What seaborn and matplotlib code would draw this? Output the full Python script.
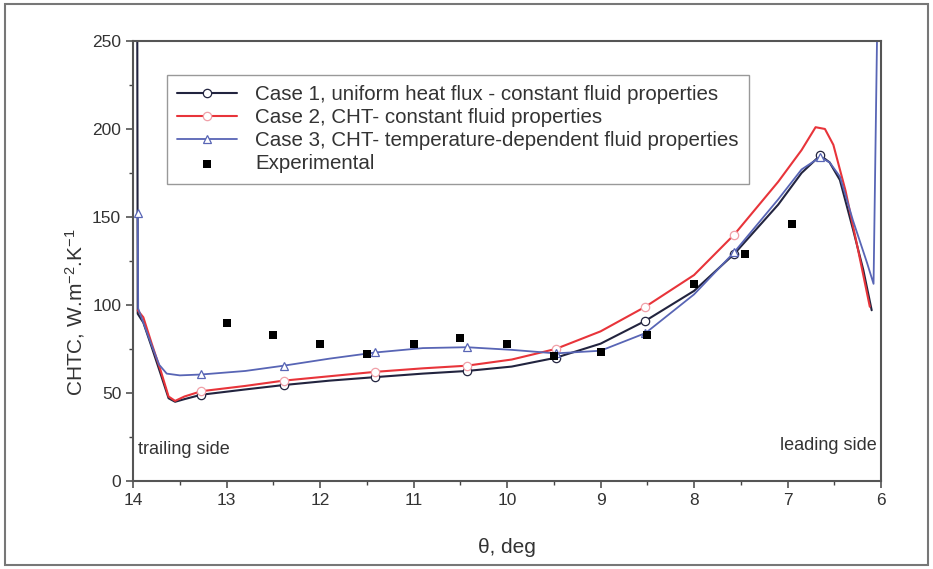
import numpy as np
import pandas as pd
import matplotlib
matplotlib.use("Agg")
import matplotlib.pyplot as plt
import seaborn as sns
from matplotlib.ticker import MultipleLocator
from matplotlib.patches import Rectangle

# ---------------- data ----------------
theta_c1 = [13.955, 13.95, 13.89, 13.8, 13.7, 13.62, 13.55, 13.45, 13.27, 12.8, 12.39, 11.9, 11.41,
            10.9, 10.43, 9.95, 9.48, 9.0, 8.52, 8.0, 7.57, 7.1, 6.85, 6.65, 6.55, 6.44,
            6.3, 6.19, 6.1]
chtc_c1 = [262, 95, 90, 76, 60, 47, 45, 46.5, 49, 52, 54.5, 57, 59,
           61, 62.5, 65, 70, 78, 91, 108, 129, 157, 175, 185, 181, 171,
           143, 120, 97]

theta_c2 = [13.95, 13.89, 13.8, 13.7, 13.62, 13.55, 13.45, 13.27, 12.8, 12.39, 11.9, 11.41,
            10.9, 10.43, 9.95, 9.48, 9.0, 8.52, 8.0, 7.57, 7.1, 6.85, 6.7, 6.6, 6.51,
            6.38, 6.26, 6.12]
chtc_c2 = [97, 93, 78, 62, 48, 45.5, 48, 51, 54, 57, 59.5, 62,
           64, 65.5, 69, 75, 85, 99, 117, 140, 170, 188, 201, 200, 191,
           165, 135, 99]

theta_c3 = [13.95, 13.945, 13.89, 13.8, 13.72, 13.64, 13.5, 13.27, 12.8, 12.39, 11.9, 11.41,
            10.9, 10.43, 9.95, 9.48, 9.0, 8.52, 8.0, 7.57, 7.1, 6.85, 6.65, 6.55, 6.44,
            6.3, 6.15, 6.08, 6.04]
chtc_c3 = [152, 98, 90, 77, 66, 61, 60, 60.5, 62.5, 65.5, 69.5, 73,
           75.5, 76, 74.5, 72.5, 74, 84, 106, 130, 160, 177, 184, 181, 173,
           148, 124, 112, 262]

marker_theta = [13.27, 12.39, 11.41, 10.43, 9.48, 8.52, 7.57, 6.65]

theta_exp = [13.0, 12.5, 12.0, 11.5, 11.0, 10.5, 10.0, 9.5, 9.0, 8.5, 8.0, 7.45, 6.95]
chtc_exp = [90, 83, 78, 72, 78, 81, 78, 71, 73, 83, 112, 129, 146]

labels = ["Case 1, uniform heat flux - constant fluid properties",
          "Case 2, CHT- constant fluid properties",
          "Case 3, CHT- temperature-dependent fluid properties",
          "Experimental"]
xticks = [14, 13, 12, 11, 10, 9, 8, 7, 6]
yticks = [0, 50, 100, 150, 200, 250]

# ---------------- style ----------------
sns.set_theme(style="ticks")
plt.rcParams['font.family'] = ['Liberation Sans', 'DejaVu Sans']
plt.rcParams['mathtext.fontset'] = 'custom'
plt.rcParams['mathtext.rm'] = 'Liberation Sans'
plt.rcParams['mathtext.it'] = 'Liberation Sans'

fig = plt.figure(figsize=(9.33, 5.69), dpi=100)
ax = fig.add_axes([0.1426, 0.1547, 0.8017, 0.7733])


def marks(xs, extra=()):
    idx = [i for i, v in enumerate(xs) if any(abs(v - m) < 1e-9 for m in marker_theta)]
    return sorted(set(idx) | set(extra))


c1_col = "#22243f"
c2_col = "#e8343a"
c3_col = "#5865b5"

df1 = pd.DataFrame({"theta": theta_c1, "chtc": chtc_c1})
df2 = pd.DataFrame({"theta": theta_c2, "chtc": chtc_c2})
df3 = pd.DataFrame({"theta": theta_c3, "chtc": chtc_c3})

sns.lineplot(data=df1, x="theta", y="chtc", sort=False, estimator=None, ax=ax,
             color=c1_col, lw=1.5, marker="o", markersize=6, markerfacecolor="white",
             markeredgecolor=c1_col, markeredgewidth=0.9,
             markevery=marks(theta_c1), label=labels[0])
sns.lineplot(data=df2, x="theta", y="chtc", sort=False, estimator=None, ax=ax,
             color=c2_col, lw=1.5, marker="o", markersize=6, markerfacecolor="white",
             markeredgecolor="#f0a0a8", markeredgewidth=0.9,
             markevery=marks(theta_c2), label=labels[1])
sns.lineplot(data=df3, x="theta", y="chtc", sort=False, estimator=None, ax=ax,
             color=c3_col, lw=1.3, marker="^", markersize=6, markerfacecolor="white",
             markeredgecolor=c3_col, markeredgewidth=0.9,
             markevery=marks(theta_c3, extra=[0]), label=labels[2])
sns.scatterplot(x=theta_exp, y=chtc_exp, ax=ax, marker="s", s=38, color="black",
                edgecolor="black", linewidth=0, label=labels[3], zorder=5)

ax.set_xlim(14, 6)
ax.set_ylim(0, 250)
ax.set_xticks(xticks)
ax.set_yticks(yticks)
ax.xaxis.set_minor_locator(MultipleLocator(0.5))
ax.yaxis.set_minor_locator(MultipleLocator(25))
ax.tick_params(which="major", direction="out", length=5, width=1.1, color="#444444",
               labelsize=12.5, labelcolor="#333333", top=False, right=False)
ax.tick_params(which="minor", direction="out", length=3, width=1.0, color="#444444",
               top=False, right=False)
for s in ax.spines.values():
    s.set_visible(True)
    s.set_color("#555555")
    s.set_linewidth(1.5)

ax.set_xlabel("θ, deg", fontsize=15, color="#333333", labelpad=22)
ax.set_ylabel("CHTC, W.m$^{-2}$.K$^{-1}$", fontsize=15, color="#333333", labelpad=2)
ax.yaxis.set_label_coords(-0.062, 0.384)

ax.text(0.006, 0.052, "trailing side", transform=ax.transAxes, fontsize=13,
        color="#333333", ha="left", va="bottom")
ax.text(0.994, 0.062, "leading side", transform=ax.transAxes, fontsize=13,
        color="#333333", ha="right", va="bottom")

leg = ax.legend(loc="upper left", bbox_to_anchor=(0.0455, 0.923), borderaxespad=0,
                fontsize=14.8, frameon=True, fancybox=False, edgecolor="#999999",
                framealpha=1, handlelength=2.9, borderpad=0.5, labelspacing=0.2,
                handletextpad=0.9)
leg.get_frame().set_linewidth(1.0)
for t in leg.get_texts():
    t.set_color("#333333")

fig.patches.append(Rectangle((0.005, 0.007), 0.99, 0.986, transform=fig.transFigure,
                             fill=False, edgecolor="#777777", linewidth=1.5))

fig.savefig("out.png", dpi=100)
